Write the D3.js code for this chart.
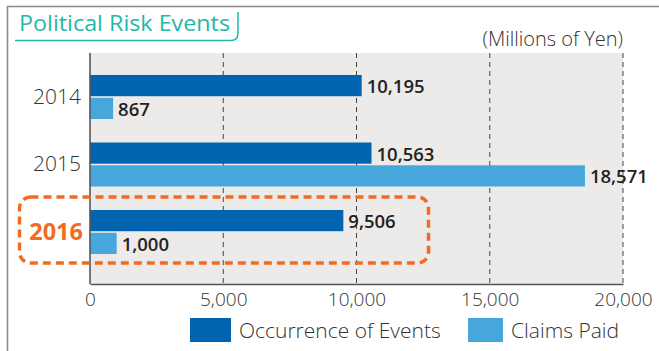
<!DOCTYPE html>
<html>
<head>
<meta charset="utf-8">
<script src="https://cdn.jsdelivr.net/npm/d3@7"></script>
<style>
  html, body { margin: 0; padding: 0; background: #ffffff; }
  svg { display: block; font-family: "Open Sans", "Noto Sans", sans-serif; }
</style>
</head>
<body>
<svg id="chart" width="659" height="351"></svg>
<script>
// Political risk events, millions of yen
const years = ["2014", "2015", "2016"];
const seriesNames = ["Occurrence of Events", "Claims Paid"];
const occurrence = [10195, 10563, 9506];
const claimsPaid = [867, 18571, 1000];
const xTicks = [0, 5000, 10000, 15000, 20000];
const highlightYear = "2016";

const colors = { "Occurrence of Events": "#0064b1", "Claims Paid": "#47a7dd" };

const rows = years.map((yr, i) => ({
  year: yr,
  values: [
    { key: seriesNames[0], value: occurrence[i] },
    { key: seriesNames[1], value: claimsPaid[i] }
  ]
}));

const svg = d3.select("#chart");
const plot = { left: 90, right: 623, top: 53, bottom: 284 };

const x = d3.scaleLinear().domain([0, 20000]).range([plot.left, plot.right]);
const y = d3.scaleBand().domain(years).range([75, 254]).paddingInner(0.348).paddingOuter(0);
const ySub = d3.scaleBand().domain(seriesNames).range([0, y.bandwidth()]).paddingInner(0.07);

// outer frame
svg.append("path")
  .attr("d", `M7.5,351 V6.5 H659`)
  .attr("fill", "none").attr("stroke", "#8a8a8a").attr("stroke-width", 1.6);

// title tab
const teal = "#22b8a8";
svg.append("path")
  .attr("d", "M15,40.5 H231 Q238,40.5 238,33 V12")
  .attr("fill", "none").attr("stroke", teal).attr("stroke-width", 1.5);
svg.append("text")
  .attr("x", 19).attr("y", 31)
  .attr("fill", teal).attr("font-size", 22).attr("font-weight", 500)
  .attr("textLength", 211).attr("lengthAdjust", "spacingAndGlyphs")
  .text("Political Risk Events");

// unit note
svg.append("text")
  .attr("x", plot.right).attr("y", 46).attr("text-anchor", "end")
  .attr("fill", "#333").attr("font-size", 20).attr("font-weight", 300)
  .text("(Millions of Yen)");

// plot background
svg.append("rect")
  .attr("x", plot.left).attr("y", plot.top)
  .attr("width", plot.right - plot.left).attr("height", plot.bottom - plot.top)
  .attr("fill", "#edebe9");

// dashed gridlines
svg.append("g").selectAll("line")
  .data(xTicks.filter(d => d > 0))
  .join("line")
  .attr("x1", d => x(d)).attr("x2", d => x(d))
  .attr("y1", plot.top).attr("y2", plot.bottom)
  .attr("stroke", "#444").attr("stroke-width", 1).attr("stroke-dasharray", "5,4");

// bars
const groups = svg.append("g").selectAll("g")
  .data(rows)
  .join("g")
  .attr("transform", d => `translate(0,${y(d.year)})`);

groups.selectAll("rect")
  .data(d => d.values)
  .join("rect")
  .attr("x", x(0))
  .attr("y", d => ySub(d.key))
  .attr("width", d => x(d.value) - x(0))
  .attr("height", ySub.bandwidth())
  .attr("fill", d => colors[d.key]);

groups.selectAll("text")
  .data(d => d.values)
  .join("text")
  .attr("x", d => x(d.value) + 5)
  .attr("y", d => ySub(d.key) + ySub.bandwidth() / 2 + 7.5)
  .attr("fill", "#222").attr("font-size", 18.5).attr("font-weight", 600)
  .text(d => d3.format(",")(d.value));

// axes
const xAxis = svg.append("g")
  .attr("transform", `translate(0,${plot.bottom})`)
  .call(d3.axisBottom(x).tickValues(xTicks).tickFormat(d3.format(",")).tickSize(0).tickPadding(9));
xAxis.select(".domain").attr("stroke", "#555").attr("stroke-width", 1.6);
xAxis.selectAll("text").attr("font-size", 19).attr("fill", "#333")
  .attr("font-family", "'Open Sans', sans-serif").attr("font-weight", 300);

const yAxis = svg.append("g")
  .attr("transform", `translate(${plot.left},0)`)
  .call(d3.axisLeft(y).tickSize(0).tickPadding(9));
yAxis.select(".domain").remove();
yAxis.append("line")
  .attr("x1", 0).attr("x2", 0).attr("y1", plot.top).attr("y2", plot.bottom)
  .attr("stroke", "#555").attr("stroke-width", 1.6);
yAxis.selectAll(".tick text")
  .attr("font-family", "'Open Sans', sans-serif")
  .attr("font-size", d => d === highlightYear ? 23.5 : 21)
  .attr("font-weight", d => d === highlightYear ? 700 : 300)
  .attr("fill", d => d === highlightYear ? "#f26b22" : "#333")
  .attr("dx", d => d === highlightYear ? 2 : 0);

// highlight frame around the latest year
const hy = y(highlightYear);
svg.append("rect")
  .attr("x", 19.5).attr("y", hy - 13)
  .attr("width", 409).attr("height", y.bandwidth() + 22)
  .attr("rx", 11).attr("ry", 11)
  .attr("fill", "none").attr("stroke", "#f26b22")
  .attr("stroke-width", 3.5).attr("stroke-dasharray", "8,5");

// legend
const legend = svg.append("g").attr("transform", "translate(190,318)");
const legendX = [0, 278];
seriesNames.forEach((name, i) => {
  const g = legend.append("g").attr("transform", `translate(${legendX[i]},0)`);
  g.append("rect").attr("width", i === 0 ? 41 : 35).attr("height", 24).attr("fill", colors[name]);
  g.append("text")
    .attr("x", (i === 0 ? 41 : 35) + 8).attr("y", 19.5)
    .attr("fill", "#333").attr("font-size", 21).attr("font-weight", 300)
    .text(name);
});
</script>
</body>
</html>
